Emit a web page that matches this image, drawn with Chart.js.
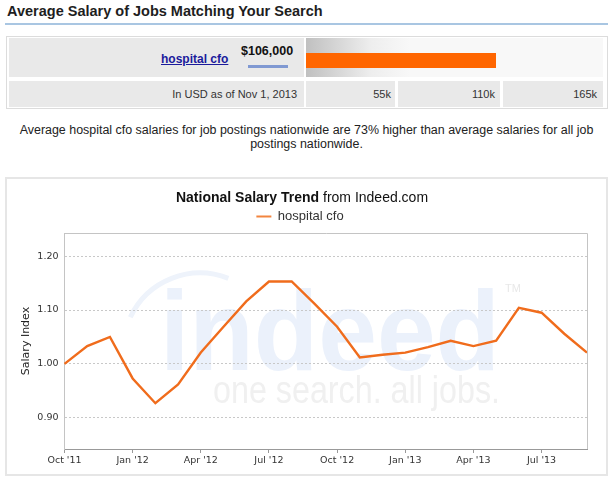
<!DOCTYPE html>
<html>
<head>
<meta charset="utf-8">
<script src="https://cdn.jsdelivr.net/npm/chart.js@4.4.0/dist/chart.umd.min.js"></script>
<style>
  body { margin: 0; width: 613px; height: 485px; overflow: hidden; background: #fff;
         font-family: "Liberation Sans", Arial, sans-serif; color: #222; position: relative; }
  .abs { position: absolute; box-sizing: border-box; }
  .heading { left: 7px; top: 3px; font-size: 14.5px; line-height: 17px; font-weight: bold; color: #1e1e1e; white-space: nowrap; }
  .rule { left: 5px; top: 23px; width: 603px; height: 2px; background: #a9c6e2; }
  .tbl { left: 6px; top: 36px; width: 602px; height: 73px; border: 1px solid #dcdcdc; }
  .cell { background: #e9e9e9; font-size: 11px; color: #333; text-align: right; line-height: 26px; white-space: nowrap; }
  .barcell { left: 306px; top: 38px; width: 297px; height: 39px;
             background: linear-gradient(to right, #c0c0c0 0%, #eeeeee 22%, #f8f8f8 35%, #f8f8f8 100%); }
  .bar { left: 306px; top: 53px; width: 190px; height: 15px; background: #ff6600; }
  .job { left: 161px; top: 52px; font-size: 12px; line-height: 14px; font-weight: bold; color: #1b1b9c; text-decoration: underline; }
  .amount { left: 241px; top: 44px; font-size: 12.5px; line-height: 14px; font-weight: bold; color: #111; }
  .mini { left: 248px; top: 65px; width: 40px; height: 3px; background: #8099d2; }
  .note { left: 0; top: 124px; width: 613px; text-align: center; font-size: 12.45px; line-height: 13.5px; color: #222; white-space: nowrap; }
  .chartbox { left: 5px; top: 177px; width: 603px; height: 299px; border: 2px solid #e6e6e6; }
  #trend { position: absolute; left: 7px; top: 179px; }
</style>
</head>
<body>
<div class="abs heading">Average Salary of Jobs Matching Your Search</div>
<div class="abs rule"></div>

<div class="abs tbl"></div>
<div class="abs cell" style="left:9px;top:38px;width:295px;height:39px;"></div>
<div class="abs barcell"></div>
<div class="abs bar"></div>
<div class="abs job">hospital cfo</div>
<div class="abs amount">$106,000</div>
<div class="abs mini"></div>
<div class="abs cell" style="left:9px;top:81px;width:295px;height:26px;padding-right:7px;">In USD as of Nov 1, 2013</div>
<div class="abs cell" style="left:306px;top:81px;width:89px;height:26px;padding-right:4px;">55k</div>
<div class="abs cell" style="left:398px;top:81px;width:102px;height:26px;padding-right:5px;">110k</div>
<div class="abs cell" style="left:503px;top:81px;width:100px;height:26px;padding-right:6px;">165k</div>

<div class="abs note">Average hospital cfo salaries for job postings nationwide are 73% higher than average salaries for all job<br>postings nationwide.</div>

<div class="abs chartbox"></div>
<canvas id="trend" width="599" height="295"></canvas>

<script>
// monthly points, Oct 2011 .. Sep 2013
const months = ['Oct 2011', 'Nov 2011', 'Dec 2011',
  'Jan 2012', 'Feb 2012', 'Mar 2012', 'Apr 2012', 'May 2012', 'Jun 2012',
  'Jul 2012', 'Aug 2012', 'Sep 2012', 'Oct 2012', 'Nov 2012', 'Dec 2012',
  'Jan 2013', 'Feb 2013', 'Mar 2013', 'Apr 2013', 'May 2013', 'Jun 2013',
  'Jul 2013', 'Aug 2013', 'Sep 2013'];
const salaryIndex = [1.000, 1.033, 1.050, 0.973, 0.927, 0.962, 1.021, 1.069, 1.116,
  1.153, 1.153, 1.112, 1.069, 1.012, 1.017, 1.021, 1.031, 1.043,
  1.033, 1.043, 1.104, 1.095, 1.056, 1.021];
const tickLabels = ["Oct '11", "Jan '12", "Apr '12", "Jul '12", "Oct '12", "Jan '13", "Apr '13", "Jul '13"];
const yTicks = [0.90, 1.00, 1.10, 1.20];
const seriesName = 'hospital cfo';

const tickFont = { family: '"DejaVu Sans", sans-serif', size: 9.5 };

// the faint indeed logo behind the plot, title, and top/right frame
const decor = {
  id: 'decor',
  beforeDraw(chart) {
    const ctx = chart.ctx;
    ctx.save();
    // swoosh over the i
    ctx.strokeStyle = '#eef3fb';
    ctx.lineWidth = 5;
    ctx.beginPath();
    ctx.arc(193, 171, 77, Math.PI * 1.14, Math.PI * 1.62);
    ctx.stroke();
    // "indeed"
    ctx.fillStyle = '#ebf1fb';
    ctx.font = 'bold 114px "Liberation Sans", Arial';
    ctx.textBaseline = 'alphabetic';
    let w = ctx.measureText('indeed').width;
    ctx.save();
    ctx.translate(153, 191);
    ctx.scale(340 / w, 1);
    ctx.fillText('indeed', 0, 0);
    ctx.restore();
    // tag line
    ctx.fillStyle = '#f0f0f0';
    ctx.font = '38px "Liberation Sans", Arial';
    w = ctx.measureText('one search. all jobs.').width;
    ctx.save();
    ctx.translate(206, 224);
    ctx.scale(287 / w, 1);
    ctx.fillText('one search. all jobs.', 0, 0);
    ctx.restore();
    ctx.font = '11px "Liberation Sans", Arial';
    ctx.fillStyle = '#e8e8e8';
    ctx.fillText('TM', 498, 113);
    ctx.restore();
  },
  afterDraw(chart) {
    const ctx = chart.ctx, a = chart.chartArea;
    ctx.save();
    ctx.strokeStyle = '#c4c4c4';
    ctx.lineWidth = 1;
    ctx.beginPath();
    ctx.moveTo(Math.round(a.left), Math.round(a.top) + 0.5);
    ctx.lineTo(Math.round(a.right) + 0.5, Math.round(a.top) + 0.5);
    ctx.lineTo(Math.round(a.right) + 0.5, Math.round(a.bottom));
    ctx.stroke();

    const bold = 'National Salary Trend', rest = ' from Indeed.com';
    ctx.textBaseline = 'middle';
    ctx.fillStyle = '#111';
    ctx.font = 'bold 14px "Liberation Sans", Arial';
    const wb = ctx.measureText(bold).width;
    ctx.font = '14px "Liberation Sans", Arial';
    const wr = ctx.measureText(rest).width;
    const x = 295 - (wb + wr) / 2;
    ctx.font = 'bold 14px "Liberation Sans", Arial';
    ctx.fillText(bold, x, 19.5);
    ctx.font = '14px "Liberation Sans", Arial';
    ctx.fillText(rest, x + wb, 19.5);
    ctx.restore();
  }
};

const ctx = document.getElementById('trend').getContext('2d');
const chart = new Chart(ctx, {
  type: 'line',
  data: {
    labels: months,
    datasets: [{
      label: seriesName,
      data: salaryIndex,
      borderColor: '#f06c1c',
      backgroundColor: '#f06c1c',
      borderWidth: 2.4,
      pointRadius: 0,
      tension: 0,
      fill: false
    }]
  },
  options: {
    responsive: false,
    animation: false,
    devicePixelRatio: 1,
    layout: { padding: { left: 6, right: 19, top: 23, bottom: 5 } },
    plugins: {
      title: { display: false },
      tooltip: { enabled: false },
      legend: {
        display: true,
        position: 'top',
        labels: {
          boxWidth: 15,
          boxHeight: 2,
          padding: 8,
          color: '#333',
          font: { family: '"Liberation Sans", Arial', size: 13 },
          generateLabels: c => Chart.defaults.plugins.legend.labels.generateLabels(c)
            .map(item => Object.assign(item, { lineWidth: 0, fillStyle: '#f2853f' }))
        }
      }
    },
    scales: {
      x: {
        type: 'category',
        offset: false,
        afterBuildTicks: axis => {
          axis.ticks = axis.ticks.filter(t => t.value % 3 === 0);
        },
        afterFit: axis => { axis.height = 20; },
        grid: { display: true, drawOnChartArea: false, drawTicks: true, tickLength: 4, tickColor: '#999' },
        border: { display: true, color: '#999' },
        ticks: {
          autoSkip: false,
          maxRotation: 0,
          padding: 2,
          color: '#333',
          font: tickFont,
          callback: (value) => tickLabels[value / 3]
        }
      },
      y: {
        min: 0.842,
        max: 1.243,
        afterBuildTicks: axis => { axis.ticks = yTicks.map(v => ({ value: v })); },
        afterFit: axis => { axis.width = 51.5; },
        grid: { color: '#c8c8c8', drawTicks: false },
        border: { display: true, color: '#c4c4c4', dash: [2, 2] },
        ticks: {
          padding: 6,
          color: '#333',
          font: tickFont,
          callback: v => v.toFixed(2)
        },
        title: {
          display: true,
          text: 'Salary Index',
          color: '#222',
          padding: { top: 6.5, bottom: 4 },
          font: { family: '"DejaVu Sans", sans-serif', size: 11 }
        }
      }
    }
  },
  plugins: [decor]
});
</script>
</body>
</html>
